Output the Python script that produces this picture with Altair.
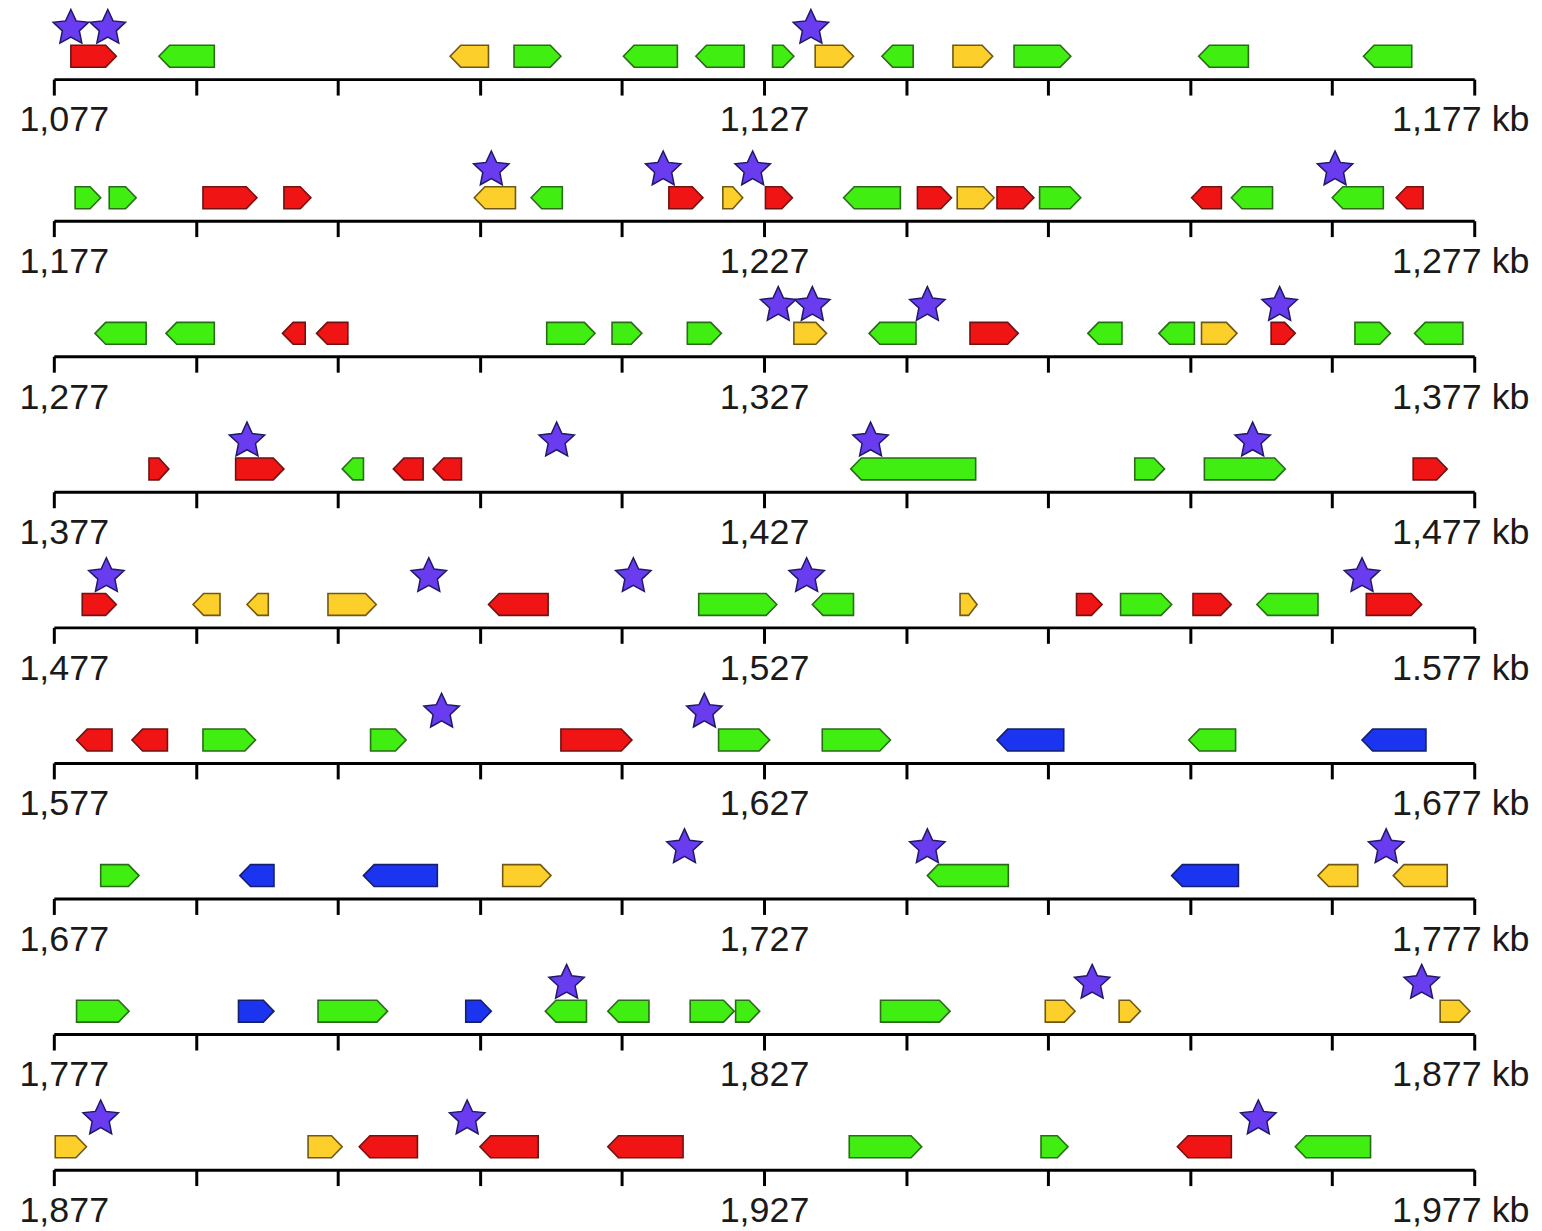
import math
import altair as alt
import pandas as pd

# ---------------- data (kb from the left end of each 100-kb window) ----------------
ROW_STARTS = [1077, 1177, 1277, 1377, 1477, 1577, 1677, 1777, 1877]
LEFT_LABELS = ["1,077", "1,177", "1,277", "1,377", "1,477", "1,577", "1,677", "1,777", "1,877"]
MID_LABELS = ["1,127", "1,227", "1,327", "1,427", "1,527", "1,627", "1,727", "1,827", "1,927"]
RIGHT_LABELS = ["1,177 kb", "1,277 kb", "1,377 kb", "1,477 kb", "1.577 kb",
                "1,677 kb", "1,777 kb", "1,877 kb", "1,977 kb"]

# (start, end, strand, class)   class: r = red, g = green, y = yellow, b = blue
GENES_1077 = [(1.2, 4.4, "+", "r"), (7.4, 11.3, "-", "g"), (27.9, 30.6, "-", "y"),
              (32.4, 35.7, "+", "g"), (40.1, 43.9, "-", "g"), (45.2, 48.6, "-", "g"),
              (50.6, 52.1, "+", "g"), (53.6, 56.3, "+", "y"), (58.3, 60.5, "-", "g"),
              (63.3, 66.1, "+", "y"), (67.6, 71.6, "+", "g"), (80.6, 84.1, "-", "g"),
              (92.2, 95.6, "-", "g")]
GENES_1177 = [(1.5, 3.3, "+", "g"), (3.9, 5.8, "+", "g"), (10.5, 14.3, "+", "r"),
              (16.2, 18.1, "+", "r"), (29.6, 32.5, "-", "y"), (33.6, 35.8, "-", "g"),
              (43.3, 45.7, "+", "r"), (47.1, 48.5, "+", "y"), (50.1, 52.0, "+", "r"),
              (55.6, 59.6, "-", "g"), (60.8, 63.2, "+", "r"), (63.6, 66.2, "+", "y"),
              (66.4, 69.0, "+", "r"), (69.4, 72.3, "+", "g"), (80.1, 82.2, "-", "r"),
              (82.9, 85.8, "-", "g"), (90.0, 93.6, "-", "g"), (94.5, 96.4, "-", "r")]
GENES_1277 = [(2.9, 6.5, "-", "g"), (7.9, 11.3, "-", "g"), (16.1, 17.7, "-", "r"),
              (18.5, 20.7, "-", "r"), (34.7, 38.1, "+", "g"), (39.3, 41.4, "+", "g"),
              (44.6, 47.0, "+", "g"), (52.1, 54.4, "+", "y"), (57.4, 60.7, "-", "g"),
              (64.5, 67.9, "+", "r"), (72.8, 75.2, "-", "g"), (77.8, 80.3, "-", "g"),
              (80.8, 83.3, "+", "y"), (85.7, 87.4, "+", "r"), (91.6, 94.1, "+", "g"),
              (95.8, 99.2, "-", "g")]
GENES_1377 = [(6.7, 8.1, "+", "r"), (12.8, 16.2, "+", "r"), (20.3, 21.8, "-", "g"),
              (23.9, 26.0, "-", "r"), (26.7, 28.7, "-", "r"), (56.1, 64.9, "-", "g"),
              (76.1, 78.2, "+", "g"), (81.0, 86.7, "+", "g"), (95.7, 98.1, "+", "r")]
GENES_1477 = [(2.0, 4.4, "+", "r"), (9.8, 11.7, "-", "y"), (13.6, 15.1, "-", "y"),
              (19.3, 22.7, "+", "y"), (30.6, 34.8, "-", "r"), (45.4, 50.9, "+", "g"),
              (53.4, 56.3, "-", "g"), (63.8, 65.0, "+", "y"), (72.0, 73.8, "+", "r"),
              (75.1, 78.7, "+", "g"), (80.2, 82.9, "+", "r"), (84.7, 89.0, "-", "g"),
              (92.4, 96.3, "+", "r")]
GENES_1577 = [(1.6, 4.1, "-", "r"), (5.5, 8.0, "-", "r"), (10.5, 14.2, "+", "g"),
              (22.3, 24.8, "+", "g"), (35.7, 40.7, "+", "r"), (46.8, 50.4, "+", "g"),
              (54.1, 58.9, "+", "g"), (66.4, 71.1, "-", "b"), (79.9, 83.2, "-", "g"),
              (92.1, 96.6, "-", "b")]
GENES_1677 = [(3.3, 6.0, "+", "g"), (13.1, 15.5, "-", "b"), (21.8, 27.0, "-", "b"),
              (31.6, 35.0, "+", "y"), (61.5, 67.2, "-", "g"), (78.7, 83.4, "-", "b"),
              (89.0, 91.8, "-", "y"), (94.3, 98.1, "-", "y")]
GENES_1777 = [(1.6, 5.3, "+", "g"), (13.0, 15.5, "+", "b"), (18.6, 23.5, "+", "g"),
              (29.0, 30.8, "+", "b"), (34.6, 37.5, "-", "g"), (39.0, 41.9, "-", "g"),
              (44.8, 47.9, "+", "g"), (48.0, 49.7, "+", "g"), (58.2, 63.1, "+", "g"),
              (69.8, 71.9, "+", "y"), (75.0, 76.5, "+", "y"), (97.6, 99.7, "+", "y")]
GENES_1877 = [(0.1, 2.3, "+", "y"), (17.9, 20.3, "+", "y"), (21.5, 25.6, "-", "r"),
              (30.0, 34.1, "-", "r"), (39.0, 44.3, "-", "r"), (56.0, 61.1, "+", "g"),
              (69.5, 71.4, "+", "g"), (79.1, 82.9, "-", "r"), (87.4, 92.7, "-", "g")]

STARS_1077 = [1.2, 3.8, 53.3]
STARS_1177 = [30.8, 42.9, 49.2, 90.2]
STARS_1277 = [51.0, 53.4, 61.5, 86.3]
STARS_1377 = [13.6, 35.4, 57.5, 84.4]
STARS_1477 = [3.7, 26.4, 40.8, 53.0, 92.1]
STARS_1577 = [27.3, 45.8]
STARS_1677 = [44.4, 61.5, 93.8]
STARS_1777 = [36.1, 73.1, 96.3]
STARS_1877 = [3.3, 29.1, 84.8]

ALL_GENES = [GENES_1077, GENES_1177, GENES_1277, GENES_1377, GENES_1477,
             GENES_1577, GENES_1677, GENES_1777, GENES_1877]
ALL_STARS = [STARS_1077, STARS_1177, STARS_1277, STARS_1377, STARS_1477,
             STARS_1577, STARS_1677, STARS_1777, STARS_1877]

# ---------------- style ----------------
FILL = {"r": "#f01414", "g": "#40ee12", "y": "#fdcf2a", "b": "#1b34f0"}
STROKE = {"r": "#6e1212", "g": "#2b6a18", "y": "#6e5818", "b": "#16206a"}
STAR_FILL = "#6a3cf0"
STAR_STROKE = "#1e1a66"
HEAD_KB = 0.75
G_LO, G_HI = 12.0, 34.0
G_MID = (G_LO + G_HI) / 2
STAR_Y = 53.0
PANEL_W = 1426
PANEL_H = [70, 78, 72, 72, 72, 72, 72, 72, 72]
SPACING = 64.1

# five-pointed star path in unit coordinates, bbox centred
pts = []
for k in range(10):
    r = 1.0 if k % 2 == 0 else 0.48
    a = math.radians(-90 + 36 * k)
    pts.append((r * math.cos(a), r * math.sin(a) + 0.095))
STAR_PATH = "M" + "L".join(f"{x:.4f},{y:.4f}" for x, y in pts) + "Z"


def gene_table(genes):
    rows = []
    for i, (s, e, strand, cat) in enumerate(genes):
        h = min(HEAD_KB, 0.5 * (e - s))
        if strand == "+":
            poly = [(s, G_LO, G_HI), (e - h, G_LO, G_HI), (e, G_MID, G_MID)]
        else:
            poly = [(s, G_MID, G_MID), (s + h, G_LO, G_HI), (e, G_LO, G_HI)]
        for x, lo, hi in poly:
            rows.append({"gene": i, "x": x, "lo": lo, "hi": hi,
                         "fill": FILL[cat], "stroke": STROKE[cat]})
    return pd.DataFrame(rows)


def panel(i):
    H = PANEL_H[i]
    xscale = alt.Scale(domain=[0, 100], nice=False, zero=False)
    yscale = alt.Scale(domain=[0, H], nice=False, zero=False)
    label_expr = (f"datum.value == 0 ? '{LEFT_LABELS[i]}' : "
                  f"datum.value == 50 ? '{MID_LABELS[i]}' : "
                  f"datum.value == 100 ? '{RIGHT_LABELS[i]}' : ''")
    axis = alt.Axis(
        values=list(range(0, 101, 10)), labelExpr=label_expr, title=None, grid=False,
        domainColor="black", domainWidth=3, tickColor="black", tickWidth=3, tickSize=16,
        labelFont="Liberation Sans", labelFontSize=36, labelColor="#1a1a1a",
        labelPadding=8, labelOverlap=False, labelFlush=False,
        labelOffset={"condition": [{"test": "datum.value == 0", "value": 10},
                                   {"test": "datum.value == 100", "value": -14}],
                     "value": 0},
    )
    gdf = gene_table(ALL_GENES[i])
    sdf = pd.DataFrame({"x": ALL_STARS[i], "y": [STAR_Y] * len(ALL_STARS[i])})

    genes = alt.Chart(gdf).mark_area(strokeWidth=1.6, opacity=1, strokeJoin="miter").encode(
        x=alt.X("x:Q", scale=xscale, axis=axis),
        y=alt.Y("lo:Q", scale=yscale, axis=None, stack=None),
        y2="hi:Q",
        detail="gene:N",
        fill=alt.Fill("fill:N", scale=None),
        stroke=alt.Stroke("stroke:N", scale=None),
    )
    stars = alt.Chart(sdf).mark_point(
        shape=STAR_PATH, filled=True, size=1400, fill=STAR_FILL, stroke=STAR_STROKE,
        strokeWidth=1.5, opacity=1,
    ).encode(
        x=alt.X("x:Q", scale=xscale, axis=axis),
        y=alt.Y("y:Q", scale=yscale, axis=None),
    )
    return alt.layer(genes, stars).properties(width=PANEL_W, height=H)


chart = alt.vconcat(*[panel(i) for i in range(9)], spacing=SPACING, bounds="flush").resolve_scale(
    x="independent", y="independent"
).properties(
    padding={"left": 10, "top": -4, "right": 4, "bottom": 2},
    background="white",
).configure_view(strokeWidth=0)

chart.save("out.html", embed_options={"renderer": "svg", "actions": False})
